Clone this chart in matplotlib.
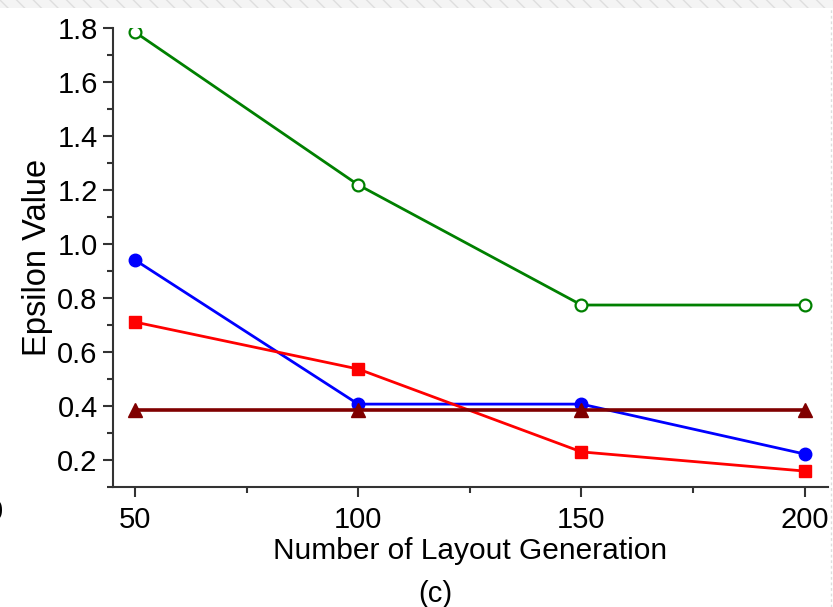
import numpy as np
import matplotlib
matplotlib.use("Agg")
import matplotlib.pyplot as plt
from matplotlib.patches import Rectangle
from matplotlib.lines import Line2D
from matplotlib.ticker import MultipleLocator

plt.rcParams["font.family"] = ["Liberation Sans", "DejaVu Sans"]

# ---- data ----
generations = [50, 100, 150, 200]
eps_green = [1.785, 1.219, 0.774, 0.774]
eps_blue = [0.941, 0.407, 0.407, 0.222]
eps_red = [0.711, 0.537, 0.230, 0.159]
eps_darkred = [0.384, 0.384, 0.384, 0.384]

fig = plt.figure(figsize=(8.33, 6.07), dpi=100)
ax = fig.add_axes([113 / 833, 1 - 487 / 607, (828 - 113) / 833, (487 - 28) / 607])

ax.plot(generations, eps_green, "-o", color="#008000", lw=2, ms=8.5,
        mfc="white", mec="#008000", mew=1.6, zorder=3)
ax.plot(generations, eps_blue, "-o", color="#0000FF", lw=2, ms=9, zorder=4)
ax.plot(generations, eps_red, "-s", color="#FF0000", lw=2, ms=8, zorder=4)
ax.plot(generations, eps_darkred, "-^", color="#800000", lw=2.6, ms=10, zorder=5)

ax.set_xlim(45.1, 205.2)
ax.set_ylim(0.1, 1.8)
ax.xaxis.set_major_locator(MultipleLocator(50))
ax.xaxis.set_minor_locator(MultipleLocator(25))
ax.yaxis.set_minor_locator(MultipleLocator(0.1))
yt = np.arange(0.2, 1.81, 0.2)
ax.set_yticks(yt)
ax.set_yticklabels([f"{v:.1f}" for v in yt])

for s in ["top", "right"]:
    ax.spines[s].set_visible(False)
for s in ["left", "bottom"]:
    ax.spines[s].set_color("#333333")
    ax.spines[s].set_linewidth(1.5)

ax.tick_params(which="major", direction="out", length=7, width=1.5,
               color="#333333", labelsize=21, pad=4)
ax.tick_params(which="minor", direction="out", length=4, width=1.5, color="#333333")
ax.tick_params(axis="x", pad=7)

ax.set_xlabel("Number of Layout Generation", fontsize=21.5, labelpad=2)
ax.set_ylabel("Epsilon Value", fontsize=23.5, labelpad=3)
fig.text(435 / 833, 1 - 594 / 607, "(c)", fontsize=21, ha="center", va="center")

# cropped leftover of a neighbouring panel
fig.text(-5 / 833, 1 - 512 / 607, "0", fontsize=21, ha="center", va="center")

# hatched strip along the top and faint right border (crop artefacts)
fig.patches.append(Rectangle((0, 1 - 8 / 607), 1, 8 / 607, transform=fig.transFigure,
                             facecolor="#f4f4f4", edgecolor="#dedede", hatch="\\\\",
                             lw=0, zorder=0))
fig.lines.append(Line2D([831 / 833, 831 / 833], [0, 1 - 8 / 607], transform=fig.transFigure,
                        color="#dddddd", lw=1, ls=(0, (2, 2))))

fig.savefig("out.png", dpi=100)
